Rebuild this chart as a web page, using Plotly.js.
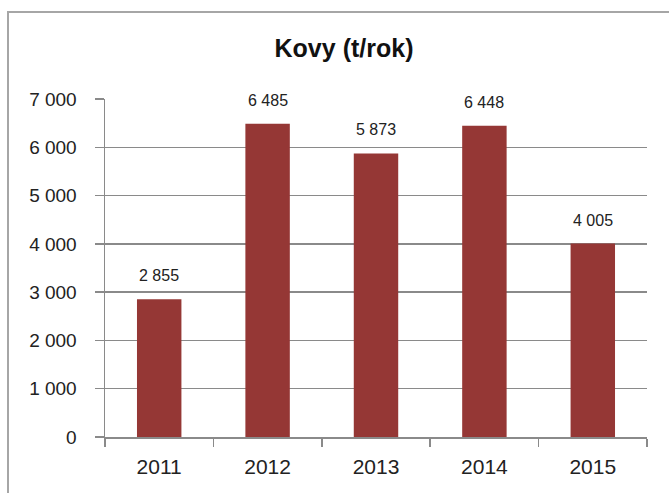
<!DOCTYPE html>
<html>
<head>
<meta charset="utf-8">
<script src="https://cdn.plot.ly/plotly-3.0.1.min.js"></script>
<style>
html,body{margin:0;padding:0;background:#fff;}
#chart{width:669px;height:493px;}
</style>
</head>
<body>
<div id="chart"></div>
<script>
const years = ["2011", "2012", "2013", "2014", "2015"];
const values = [2855, 6485, 5873, 6448, 4005];
const yTicks = [0, 1000, 2000, 3000, 4000, 5000, 6000, 7000];

const fmt = v => String(v).replace(/\B(?=(\d{3})+(?!\d))/g, " ");

const W = 669, H = 493;
const mL = 105, mR = 22, mT = 99, mB = 56;
const pw = W - mL - mR, ph = H - mT - mB;
const px = v => (v - mL) / pw;
const py = v => (H - mB - v) / ph;

const trace = {
  type: "bar",
  x: years,
  y: values,
  marker: {color: "#953735", line: {width: 0}},
  hoverinfo: "skip"
};

const annotations = years.map((yr, i) => ({
  x: i, y: values[i], xref: "x", yref: "y",
  text: fmt(values[i]),
  showarrow: false, yanchor: "bottom", yshift: 13,
  font: {family: "Liberation Sans, Arial, sans-serif", size: 16, color: "#222"}
}));

const layout = {
  width: W, height: H,
  margin: {l: mL, r: mR, t: mT, b: mB, pad: 0},
  paper_bgcolor: "#fff", plot_bgcolor: "#fff",
  showlegend: false,
  bargap: 0.59,
  title: {
    text: "<b>Kovy (t/rok)</b>",
    x: 344 / W, xanchor: "center", xref: "container",
    y: 1 - 48 / H, yanchor: "middle", yref: "container",
    font: {family: "Liberation Sans, Arial, sans-serif", size: 25, color: "#111"}
  },
  xaxis: {
    type: "category",
    categoryorder: "array", categoryarray: years,
    range: [-0.5, years.length - 0.5],
    tickson: "boundaries",
    ticks: "outside", ticklen: 8, tickwidth: 1.5, tickcolor: "#8a8a8a",
    showline: true, linecolor: "#8a8a8a", linewidth: 1.5,
    showgrid: false, zeroline: false,
    tickangle: 0,
    ticklabelstandoff: 10,
    tickfont: {family: "Liberation Sans, Arial, sans-serif", size: 21, color: "#222"}
  },
  yaxis: {
    range: [0, 7000],
    tickmode: "array",
    tickvals: yTicks,
    ticktext: yTicks.map(fmt),
    ticks: "outside", ticklen: 9, tickwidth: 1.5, tickcolor: "#8a8a8a",
    showline: true, linecolor: "#8a8a8a", linewidth: 1.5,
    showgrid: true, gridcolor: "#8a8a8a", gridwidth: 1.5,
    zeroline: false,
    ticklabelstandoff: 14,
    tickfont: {family: "Liberation Sans, Arial, sans-serif", size: 19, color: "#222"}
  },
  annotations: annotations,
  shapes: [{
    type: "rect", xref: "paper", yref: "paper",
    x0: px(8), x1: px(675), y0: py(500), y1: py(12),
    line: {color: "#a6a6a6", width: 2}, fillcolor: "rgba(0,0,0,0)", layer: "below"
  }]
};

Plotly.newPlot("chart", [trace], layout, {staticPlot: true, displayModeBar: false});
</script>
</body>
</html>
